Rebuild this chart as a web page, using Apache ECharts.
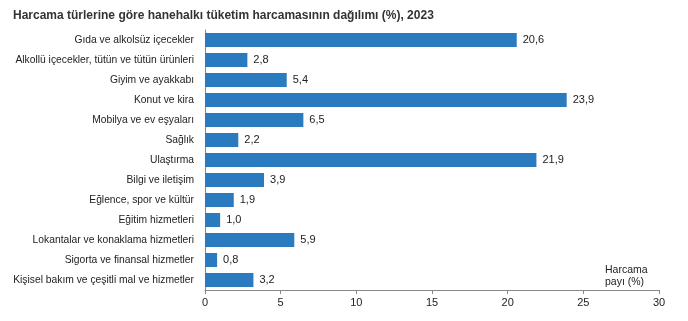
<!DOCTYPE html>
<html>
<head>
<meta charset="utf-8">
<script src="https://cdn.jsdelivr.net/npm/echarts@6/dist/echarts.min.js"></script>
<style>html,body{margin:0;padding:0;background:#fff}#c{width:688px;height:321px}</style>
</head>
<body>
<div id="c"></div>
<script>
const titleText = 'Harcama türlerine göre hanehalkı tüketim harcamasının dağılımı (%), 2023';
const categories = [
  'Gıda ve alkolsüz içecekler',
  'Alkollü içecekler, tütün ve tütün ürünleri',
  'Giyim ve ayakkabı',
  'Konut ve kira',
  'Mobilya ve ev eşyaları',
  'Sağlık',
  'Ulaştırma',
  'Bilgi ve iletişim',
  'Eğlence, spor ve kültür',
  'Eğitim hizmetleri',
  'Lokantalar ve konaklama hizmetleri',
  'Sigorta ve finansal hizmetler',
  'Kişisel bakım ve çeşitli mal ve hizmetler'
];
const values = [20.6, 2.8, 5.4, 23.9, 6.5, 2.2, 21.9, 3.9, 1.9, 1.0, 5.9, 0.8, 3.2];
const xTicks = [0, 5, 10, 15, 20, 25, 30];
const axisNameLines = ['Harcama', 'payı (%)'];

const chart = echarts.init(document.getElementById('c'), null, {renderer: 'canvas'});
chart.setOption({
  animation: false,
  textStyle: {fontFamily: 'Liberation Sans, Arial, sans-serif'},
  title: {
    text: titleText, left: 8, top: 5,
    textStyle: {fontSize: 12, fontWeight: 'bold', color: '#333', fontFamily: 'Liberation Sans, Arial, sans-serif'}
  },
  grid: {left: 205, right: 29, top: 30, bottom: 31, containLabel: false},
  xAxis: {
    type: 'value', min: xTicks[0], max: xTicks[xTicks.length - 1], interval: 5,
    name: axisNameLines.map(s => '{a|' + s + '}').join('\n'), nameLocation: 'end', nameGap: 0,
    nameTextStyle: {
      align: 'right', verticalAlign: 'bottom', padding: [0, 10, 2, 0], color: '#222',
      rich: {a: {fontSize: 10.5, color: '#222', width: 44, align: 'left', lineHeight: 12}}
    },
    axisLine: {show: true, lineStyle: {color: '#888'}},
    axisTick: {show: true, length: 4, lineStyle: {color: '#888'}},
    axisLabel: {color: '#222', fontSize: 11, margin: 7},
    splitLine: {show: false}
  },
  yAxis: {
    type: 'category', data: categories, inverse: true,
    axisLine: {show: true, lineStyle: {color: '#888'}},
    axisTick: {show: false},
    axisLabel: {color: '#222', fontSize: 10.3, margin: 11}
  },
  series: [{
    type: 'bar', data: values, barWidth: 14,
    itemStyle: {color: '#2a7abf'},
    label: {
      show: true, position: 'right', distance: 6, color: '#222', fontSize: 11,
      formatter: p => p.value.toFixed(1).replace('.', ',')
    }
  }]
});
</script>
</body>
</html>
